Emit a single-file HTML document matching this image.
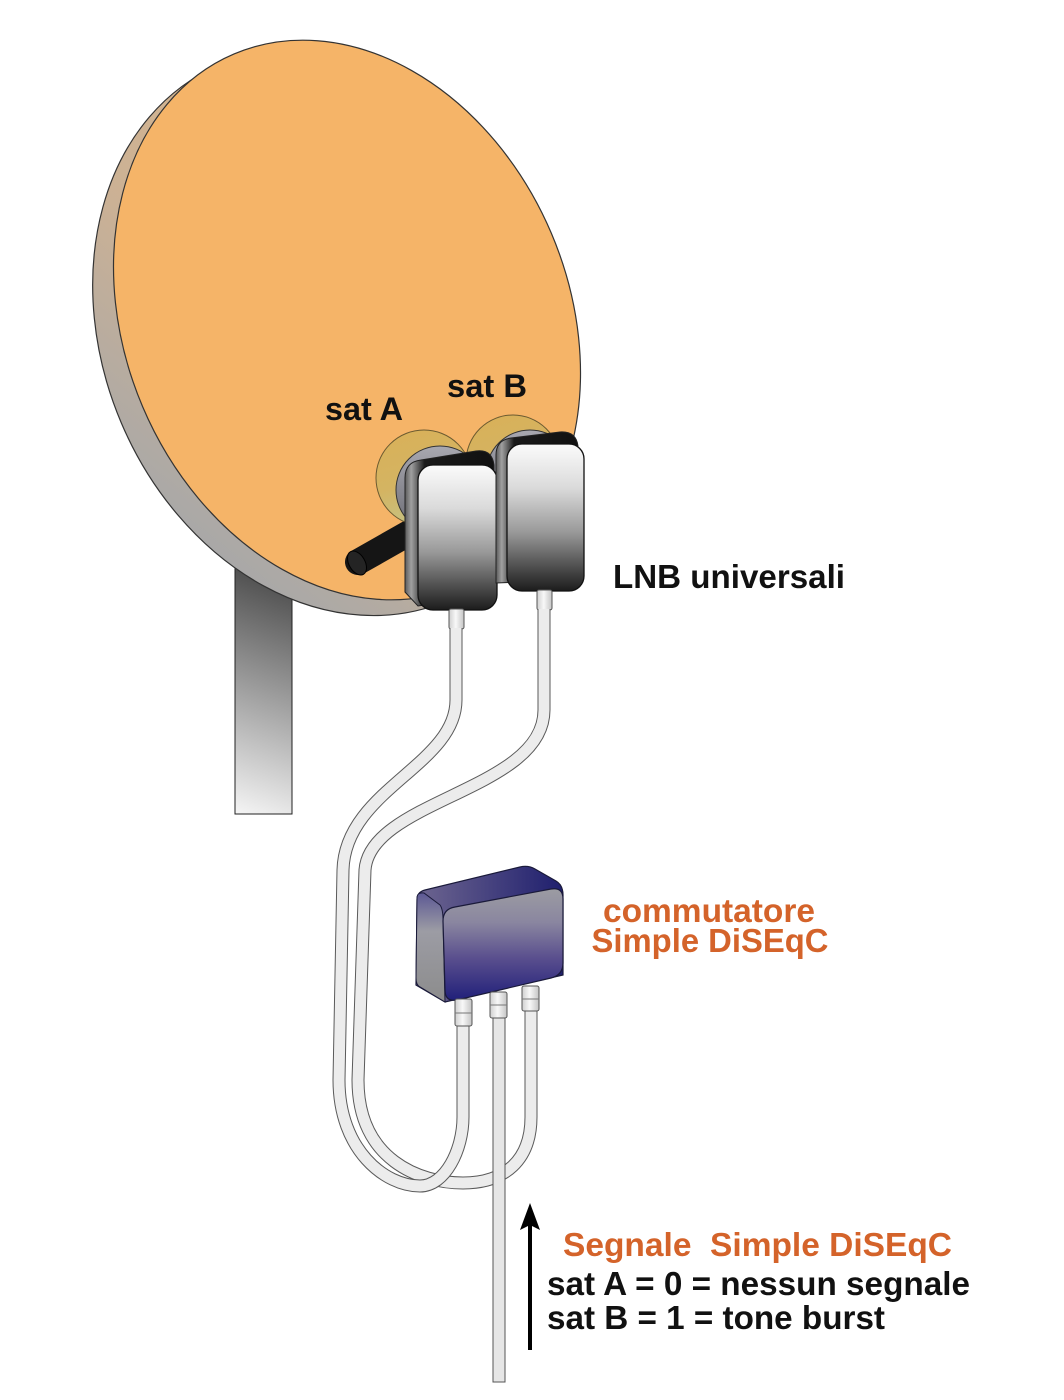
<!DOCTYPE html>
<html>
<head>
<meta charset="utf-8">
<style>
html,body{margin:0;padding:0;background:#ffffff;}
svg{display:block}
.t{font-family:"Liberation Sans",Arial,sans-serif;font-weight:700;}
</style>
</head>
<body>
<svg width="1064" height="1400" viewBox="0 0 1064 1400" xmlns="http://www.w3.org/2000/svg">
<defs>
  <linearGradient id="mastG" gradientUnits="userSpaceOnUse" x1="305" y1="560" x2="215" y2="805">
    <stop offset="0" stop-color="#3a3a3a"/>
    <stop offset="1" stop-color="#f4f4f4"/>
  </linearGradient>
  <linearGradient id="rimG" gradientUnits="userSpaceOnUse" x1="100" y1="200" x2="330" y2="620">
    <stop offset="0" stop-color="#D8B68C"/>
    <stop offset="0.55" stop-color="#CBB195"/>
    <stop offset="1" stop-color="#A8A8A8"/>
  </linearGradient>
  <linearGradient id="discG" x1="0" y1="0" x2="0.3" y2="1">
    <stop offset="0" stop-color="#D9B058"/>
    <stop offset="0.6" stop-color="#D4B462"/>
    <stop offset="1" stop-color="#C6C282"/>
  </linearGradient>
  <linearGradient id="collarG" x1="0" y1="0" x2="0" y2="1">
    <stop offset="0" stop-color="#a8a8b0"/>
    <stop offset="1" stop-color="#6a6a72"/>
  </linearGradient>
  <linearGradient id="backG" x1="0" y1="0" x2="1" y2="0">
    <stop offset="0" stop-color="#5a5a5a"/>
    <stop offset="0.07" stop-color="#a0a0a0"/>
    <stop offset="0.15" stop-color="#5a5a5a"/>
    <stop offset="0.22" stop-color="#1a1a1a"/>
    <stop offset="1" stop-color="#111"/>
  </linearGradient>
  <linearGradient id="frontG" x1="0" y1="0" x2="0" y2="1">
    <stop offset="0" stop-color="#fbfbfb"/>
    <stop offset="0.3" stop-color="#dadada"/>
    <stop offset="0.6" stop-color="#999"/>
    <stop offset="0.85" stop-color="#4a4a4a"/>
    <stop offset="1" stop-color="#1c1c1c"/>
  </linearGradient>
  <linearGradient id="pinG" x1="0" y1="0" x2="1" y2="0">
    <stop offset="0" stop-color="#cfcfcf"/>
    <stop offset="0.45" stop-color="#f8f8f8"/>
    <stop offset="1" stop-color="#c4c4c4"/>
  </linearGradient>
  <linearGradient id="swBackG" x1="0" y1="0" x2="1" y2="0">
    <stop offset="0" stop-color="#6e6690"/>
    <stop offset="1" stop-color="#1f1f6e"/>
  </linearGradient>
  <linearGradient id="swSideG" x1="0" y1="0" x2="0" y2="1">
    <stop offset="0" stop-color="#5c5894"/>
    <stop offset="0.35" stop-color="#9c9ca4"/>
    <stop offset="1" stop-color="#8c8c8c"/>
  </linearGradient>
  <linearGradient id="swFrontG" x1="0" y1="0" x2="0" y2="1">
    <stop offset="0" stop-color="#9c9ca2"/>
    <stop offset="0.3" stop-color="#8a86a0"/>
    <stop offset="0.62" stop-color="#5a4f8e"/>
    <stop offset="1" stop-color="#21207a"/>
  </linearGradient>
</defs>

<rect width="1064" height="1400" fill="#ffffff"/>

<!-- mast -->
<rect x="235" y="540" width="57" height="274" fill="url(#mastG)" stroke="#222" stroke-width="1"/>

<!-- dish rim -->
<ellipse cx="333" cy="333" rx="291" ry="230" transform="rotate(67 333 333)" fill="url(#rimG)" stroke="#333" stroke-width="1.2"/>

<!-- dish face -->
<ellipse cx="347" cy="320" rx="289" ry="222" transform="rotate(67 347 320)" fill="#F5B468" stroke="#333" stroke-width="1.2"/>

<!-- feed arm -->
<line x1="358" y1="562" x2="425" y2="524" stroke="#151515" stroke-width="26" stroke-linecap="round"/>
<ellipse cx="357" cy="563" rx="8" ry="13" transform="rotate(-30 357 563)" fill="#242424" stroke="#000" stroke-width="1"/>

<!-- labels on dish -->
<text class="t" x="325" y="420" font-size="32" fill="#111" textLength="78" lengthAdjust="spacingAndGlyphs">sat A</text>
<text class="t" x="447" y="397" font-size="32" fill="#111" textLength="80" lengthAdjust="spacingAndGlyphs">sat B</text>

<!-- discs -->
<circle cx="424" cy="478" r="48" fill="url(#discG)" stroke="#6b5a30" stroke-width="1"/>
<circle cx="513" cy="462" r="47" fill="url(#discG)" stroke="#6b5a30" stroke-width="1"/>
<!-- collars -->
<circle cx="440" cy="490" r="44" fill="url(#collarG)" stroke="#333" stroke-width="1"/>
<circle cx="530" cy="474" r="44" fill="url(#collarG)" stroke="#333" stroke-width="1"/>

<!-- LNB A -->
<path d="M405,592 L405,478 Q405,462 421,460 L476,451 Q492,449 494,465 L494,595 L418,606 Z" fill="url(#backG)" stroke="#222" stroke-width="1"/>
<rect x="418" y="465" width="79" height="145" rx="15" fill="url(#frontG)" stroke="#111" stroke-width="1.3"/>
<!-- LNB B -->
<path d="M496,583 L496,455 Q496,440 511,438 L560,432 Q576,431 578,446 L578,580 Z" fill="url(#backG)" stroke="#222" stroke-width="1"/>
<rect x="507" y="444" width="77" height="147" rx="15" fill="url(#frontG)" stroke="#111" stroke-width="1.3"/>

<!-- LNB pins -->
<rect x="449" y="609" width="15" height="20" rx="2" fill="url(#pinG)" stroke="#555" stroke-width="1"/>
<rect x="537" y="590" width="15" height="20" rx="2" fill="url(#pinG)" stroke="#555" stroke-width="1"/>

<text class="t" x="613" y="588" font-size="33" fill="#111" textLength="232" lengthAdjust="spacingAndGlyphs">LNB universali</text>

<!-- cables -->
<g fill="none" stroke-linecap="butt" stroke-linejoin="round">
  <path d="M544,609 L544,710 C544,790 370,800 365,870 L358,1080 C358,1160 420,1183 463,1183 C505,1183 531,1160 531,1117 L531,1010" stroke="#5a5a5a" stroke-width="13"/>
  <path d="M544,609 L544,710 C544,790 370,800 365,870 L358,1080 C358,1160 420,1183 463,1183 C505,1183 531,1160 531,1117 L531,1010" stroke="#ececec" stroke-width="11"/>
  <path d="M456,628 L456,700 C456,765 345,790 343,870 L339,1080 C339,1150 385,1186 420,1186 C445,1186 463,1150 463,1117 L463,1025" stroke="#5a5a5a" stroke-width="13"/>
  <path d="M456,628 L456,700 C456,765 345,790 343,870 L339,1080 C339,1150 385,1186 420,1186 C445,1186 463,1150 463,1117 L463,1025" stroke="#ececec" stroke-width="11"/>
</g>

<!-- switch -->
<path d="M417,900 Q417,892 425,890 L520,867 Q528,865 535,869 L556,881 Q563,885 563,895 L563,975 L445,1002 L416,985 Z" fill="url(#swBackG)" stroke="#1a1a3a" stroke-width="1.2"/>
<path d="M417,898 Q417,892 424,893 L440,905 Q443,909 443,920 L445,1002 L420,987 Q416,985 416,978 Z" fill="url(#swSideG)" stroke="#1a1a3a" stroke-width="1"/>
<path d="M455,907 L551,889 Q563,887 563,899 L563,963 Q563,975 551,978 L457,1000 Q445,1002 445,990 L443,921 Q443,909 455,907 Z" fill="url(#swFrontG)" stroke="#1a1a3a" stroke-width="1.2"/>

<!-- switch pins -->
<rect x="455" y="999" width="17" height="27" rx="2" fill="url(#pinG)" stroke="#555" stroke-width="1"/>
<line x1="455" y1="1013" x2="472" y2="1013" stroke="#777" stroke-width="1"/>
<rect x="522" y="986" width="17" height="25" rx="2" fill="url(#pinG)" stroke="#555" stroke-width="1"/>
<line x1="522" y1="999" x2="539" y2="999" stroke="#777" stroke-width="1"/>

<!-- output cable -->
<rect x="493" y="1012" width="12" height="370" fill="#e6e6e6" stroke="#555" stroke-width="1"/>
<rect x="490" y="992" width="17" height="26" rx="2" fill="url(#pinG)" stroke="#555" stroke-width="1"/>
<line x1="490" y1="1005" x2="507" y2="1005" stroke="#777" stroke-width="1"/>

<text class="t" x="709" y="922" font-size="33" fill="#D4632A" text-anchor="middle" textLength="212" lengthAdjust="spacingAndGlyphs">commutatore</text>
<text class="t" x="710" y="952" font-size="33" fill="#D4632A" text-anchor="middle" textLength="237" lengthAdjust="spacingAndGlyphs">Simple DiSEqC</text>

<!-- arrow -->
<line x1="530" y1="1350" x2="530" y2="1222" stroke="#000" stroke-width="4"/>
<polygon points="530,1203 540,1230 530,1225 520,1230" fill="#000"/>

<text class="t" x="563" y="1256" font-size="33" fill="#D4632A" textLength="389" lengthAdjust="spacingAndGlyphs">Segnale&#160; Simple DiSEqC</text>
<text class="t" x="547" y="1295" font-size="33" fill="#111" textLength="423" lengthAdjust="spacingAndGlyphs">sat A = 0 = nessun segnale</text>
<text class="t" x="547" y="1329" font-size="33" fill="#111" textLength="338" lengthAdjust="spacingAndGlyphs">sat B = 1 = tone burst</text>
</svg>
</body>
</html>
